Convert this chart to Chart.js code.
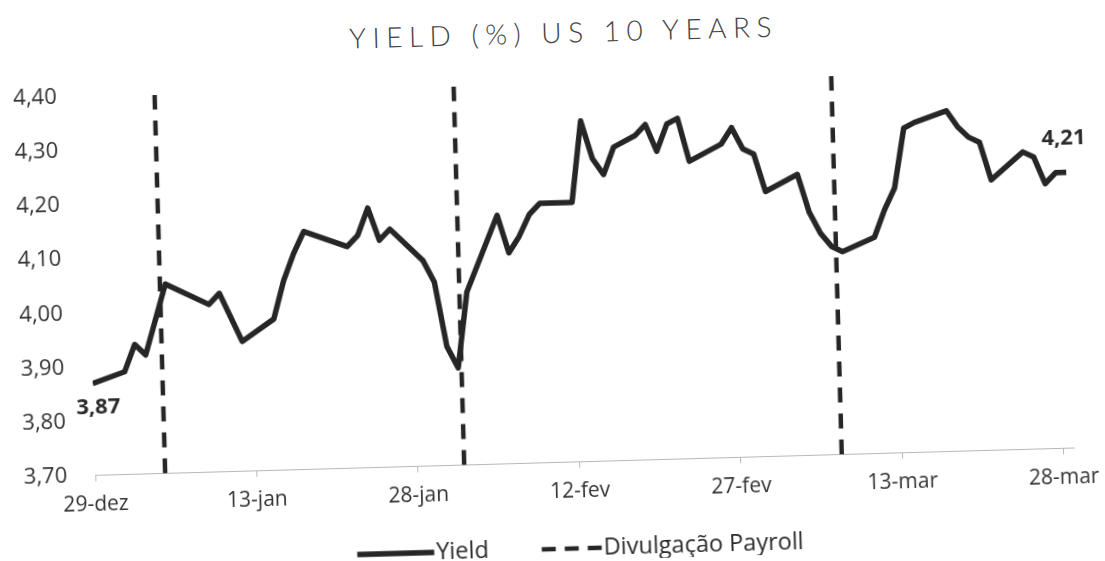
<!DOCTYPE html>
<html lang="pt-BR">
<head>
<meta charset="utf-8">
<title>Yield (%) US 10 Years</title>
<script src="https://cdn.jsdelivr.net/npm/chart.js"></script>
<style>
  html, body { margin: 0; padding: 0; background: #fff; overflow: hidden; }
  #quadro {
    position: relative;
    width: 1105px;
    height: 561px;
    transform: rotate(-1.6deg);
    transform-origin: 50% 50%;
  }
  #titulo {
    position: absolute;
    left: 0; top: 17px;
    width: 1105px;
    box-sizing: border-box;
    padding-left: 36px;
    margin: 0;
    text-align: center;
    font-family: Lato, sans-serif;
    font-weight: 300;
    font-size: 28px;
    line-height: 30px;
    letter-spacing: 6.5px;
    color: #444;
  }
  #chart-yield { position: absolute; left: 0; top: 0; }
</style>
</head>
<body>
<div id="quadro">
  <h1 id="titulo">YIELD (%) US 10 YEARS</h1>
  <canvas id="chart-yield" width="1105" height="561"></canvas>
</div>
<script>
// dias corridos a partir de 29-dez
const dias = [
  0, 3, 4, 5, 7, 11, 12, 14, 17, 18, 19, 20,
  24, 25, 26, 27, 28, 31, 32, 33, 34, 35,
  38, 39, 40, 41, 42, 45, 46, 47, 48, 49,
  51, 52, 53, 54, 55, 56, 59, 60, 61, 62, 63,
  66, 67, 68, 69, 70, 73, 74, 75, 76, 77,
  80, 81, 82, 83, 84, 87, 88, 89, 90, 91,
];
const yieldUS10 = [
  3.87, 3.89, 3.94, 3.92, 4.05, 4.01, 4.03, 3.94, 3.98, 4.05, 4.10, 4.14,
  4.11, 4.13, 4.18, 4.12, 4.14, 4.08, 4.04, 3.92, 3.88, 4.02,
  4.16, 4.09, 4.12, 4.16, 4.18, 4.18, 4.33, 4.26, 4.23, 4.28,
  4.30, 4.32, 4.27, 4.32, 4.33, 4.25, 4.28, 4.31, 4.27, 4.26, 4.19,
  4.22, 4.15, 4.11, 4.085, 4.075, 4.10, 4.15, 4.19, 4.30, 4.31,
  4.33, 4.30, 4.28, 4.27, 4.20, 4.25, 4.24, 4.19, 4.21, 4.21,
];
// divulgação do payroll (mesma contagem de dias)
const payrollDias = [6.5, 34.3, 69.4];

const xTicks = [0, 15, 30, 45, 60, 75, 90];
const xLabels = ['29-dez', '13-jan', '28-jan', '12-fev', '27-fev', '13-mar', '28-mar'];
const yTicks = [3.7, 3.8, 3.9, 4.0, 4.1, 4.2, 4.3, 4.4];

const FONTE = "'Open Sans', sans-serif";
const fmt = v => v.toFixed(2).replace('.', ',');

const yMin = yTicks[0];
const yMax = yTicks[yTicks.length - 1];
const payrollPontos = payrollDias.flatMap(d => [
  { x: d, y: yMin }, { x: d, y: yMax }, { x: d, y: null },
]);

// rótulo do primeiro e do último valor
const rotulosPlugin = {
  id: 'rotulos-extremos',
  afterDatasetsDraw(chart) {
    const { ctx, scales: { x, y } } = chart;
    const n = dias.length - 1;
    ctx.save();
    ctx.font = `bold 22px ${FONTE}`;
    ctx.fillStyle = '#2b2b2b';
    ctx.textAlign = 'center';
    ctx.textBaseline = 'middle';
    ctx.fillText(fmt(yieldUS10[0]), x.getPixelForValue(dias[0]) + 5, y.getPixelForValue(yieldUS10[0]) + 24);
    ctx.fillText(fmt(yieldUS10[n]), x.getPixelForValue(dias[n]) - 2, y.getPixelForValue(yieldUS10[n]) - 34);
    ctx.restore();
  },
};

// legenda desenhada à mão embaixo do eixo
const legendaPlugin = {
  id: 'legenda',
  afterDraw(chart, args, opts) {
    const { ctx } = chart;
    ctx.save();
    ctx.font = `${opts.size}px ${FONTE}`;
    ctx.textBaseline = 'middle';
    const itens = chart.data.datasets.map((ds, i) => ({
      ds,
      dash: opts.dashes[i],
      amostra: opts.amostras[i],
      w: ctx.measureText(ds.label).width,
    }));
    const total = itens.reduce((s, it) => s + it.amostra + opts.gap + it.w, 0) + opts.espaco * (itens.length - 1);
    let x = opts.centro - total / 2;
    itens.forEach(({ ds, dash, amostra, w }) => {
      ctx.strokeStyle = ds.borderColor;
      ctx.lineWidth = ds.borderWidth;
      ctx.setLineDash(dash);
      ctx.beginPath();
      ctx.moveTo(x, opts.y);
      ctx.lineTo(x + amostra, opts.y);
      ctx.stroke();
      x += amostra + opts.gap;
      ctx.fillStyle = opts.cor;
      ctx.fillText(ds.label, x, opts.y);
      x += w + opts.espaco;
    });
    ctx.restore();
  },
};

new Chart(document.getElementById('chart-yield'), {
  type: 'line',
  data: {
    datasets: [
      {
        label: 'Yield',
        data: dias.map((d, i) => ({ x: d, y: yieldUS10[i] })),
        borderColor: '#262626',
        borderWidth: 5.5,
        borderJoinStyle: 'round',
        pointRadius: 0,
        tension: 0,
      },
      {
        label: 'Divulgação Payroll',
        data: payrollPontos,
        borderColor: '#262626',
        borderWidth: 4.5,
        borderDash: [15, 11],
        pointRadius: 0,
        spanGaps: false,
      },
    ],
  },
  options: {
    responsive: false,
    animation: false,
    devicePixelRatio: 1,
    layout: { padding: { left: 16, right: 28, top: 84, bottom: 0 } },
    plugins: {
      legend: { display: false },
      tooltip: { enabled: false },
      legenda: {
        size: 23.5, cor: '#2a2a2a', centro: 573, y: 549,
        amostras: [77, 60], gap: 2, espaco: 53,
        dashes: [[], [14, 9]],
      },
    },
    scales: {
      x: {
        type: 'linear',
        min: 0,
        max: 91,
        afterBuildTicks: s => { s.ticks = xTicks.map(v => ({ value: v })); },
        afterFit: s => { s.height = 98.5; },
        ticks: {
          autoSkip: false,
          maxRotation: 0,
          padding: 11,
          color: '#333',
          font: { family: FONTE, size: 21 },
          callback: v => xLabels[xTicks.indexOf(v)],
        },
        grid: { drawOnChartArea: false, drawTicks: true, tickLength: 6, color: '#b8b8b8' },
        border: { display: true, color: '#b8b8b8', width: 1, dash: [2, 2] },
      },
      y: {
        min: yMin,
        max: yMax,
        afterBuildTicks: s => { s.ticks = yTicks.map(v => ({ value: v })); },
        afterFit: s => { s.width = 74; },
        ticks: {
          padding: 28,
          color: '#333',
          font: { family: FONTE, size: 22 },
          callback: v => fmt(v),
        },
        grid: { display: false, drawTicks: false },
        border: { display: false },
      },
    },
  },
  plugins: [rotulosPlugin, legendaPlugin],
});
</script>
</body>
</html>
